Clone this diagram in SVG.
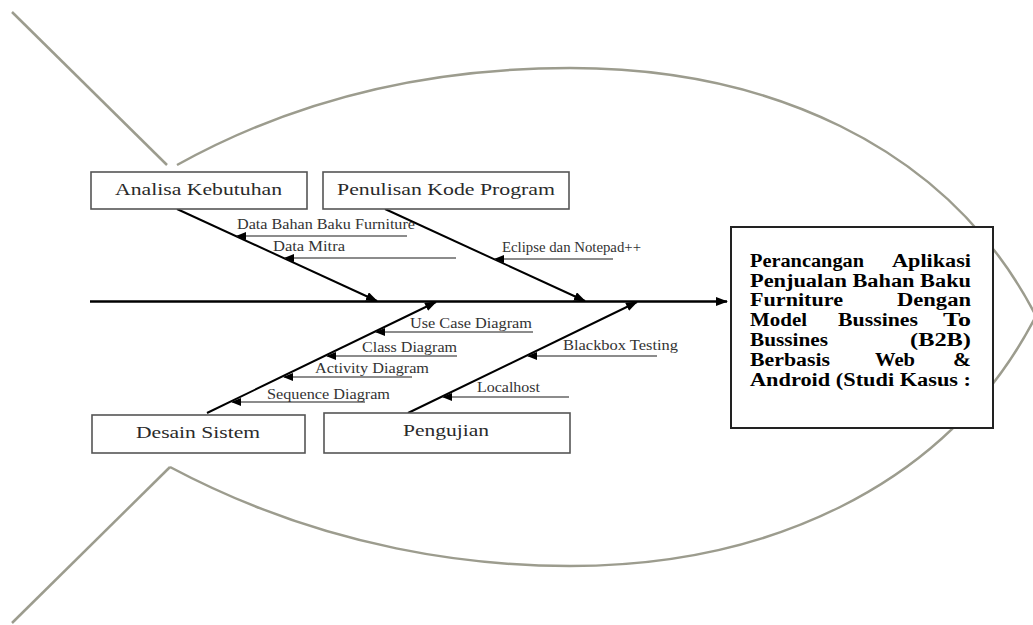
<svg xmlns="http://www.w3.org/2000/svg" width="1033" height="625" viewBox="0 0 1033 625">
<defs>
<marker id="ah" markerUnits="userSpaceOnUse" markerWidth="12" markerHeight="9" refX="11" refY="4.5" orient="auto"><path d="M0,0 L12,4.5 L0,9 z" fill="#000"/></marker>
<marker id="fh" markerUnits="userSpaceOnUse" markerWidth="10" markerHeight="8" refX="9" refY="4" orient="auto"><path d="M0,0 L10,4 L0,8 z" fill="#000"/></marker>
</defs>
<style>
.fish{fill:none;stroke:#9c9c8e;stroke-width:2.5}
.box{fill:#fff;stroke:#555;stroke-width:1.6}
.lbl{font-family:"Liberation Serif",serif;font-size:17.5px;fill:#2a2a2a}
.sm{font-family:"Liberation Serif",serif;font-size:14.5px;fill:#333}
.bone{fill:none;stroke:#000;stroke-width:2;marker-end:url(#ah)}
.spine{fill:none;stroke:#000;stroke-width:2.6;marker-end:url(#ah)}
.feed{fill:none;stroke:#666;stroke-width:1.5;marker-end:url(#fh)}
.ttl{font-family:"Liberation Serif",serif;font-size:18px;font-weight:bold;fill:#000}
</style>
<g id="fish-outline">
<path class="fish" d="M12,12 L167,165"/>
<path class="fish" d="M12,623 L170,467"/>
<path class="fish" d="M177,165 C330,80 480,68 570,68 C760,68 945,140 1036,316"/>
<path class="fish" d="M170,467 C330,552 480,566 570,566 C760,566 945,492 1036,316"/>
</g>
<g id="connectors">
<path class="spine" d="M90,301.5 L727,301.5"/>
<path class="bone" d="M177,209 L377,301"/>
<path class="bone" d="M385,209 L585,301"/>
<path class="bone" d="M207,413 L436,302"/>
<path class="bone" d="M408,413 L637,302"/>
<path class="feed" d="M407,236 L237,236"/>
<path class="feed" d="M456,258 L285,258"/>
<path class="feed" d="M613,259 L495,259"/>
<path class="feed" d="M533,332 L376,332"/>
<path class="feed" d="M457,356 L327,356"/>
<path class="feed" d="M412,377 L284,377"/>
<path class="feed" d="M365,402 L232,402"/>
<path class="feed" d="M657,356 L528,356"/>
<path class="feed" d="M569,397 L443,397"/>
</g>
<g id="labels">
<text class="sm" x="237" y="229" textLength="178" lengthAdjust="spacingAndGlyphs">Data Bahan Baku Furniture</text>
<text class="sm" x="273" y="251" textLength="72" lengthAdjust="spacingAndGlyphs">Data Mitra</text>
<text class="sm" x="502" y="252" textLength="139" lengthAdjust="spacingAndGlyphs">Eclipse dan Notepad++</text>
<text class="sm" x="410" y="328" textLength="122" lengthAdjust="spacingAndGlyphs">Use Case Diagram</text>
<text class="sm" x="362" y="352" textLength="95" lengthAdjust="spacingAndGlyphs">Class Diagram</text>
<text class="sm" x="315" y="373" textLength="114" lengthAdjust="spacingAndGlyphs">Activity Diagram</text>
<text class="sm" x="267" y="399" textLength="123" lengthAdjust="spacingAndGlyphs">Sequence Diagram</text>
<text class="sm" x="563" y="350" textLength="115" lengthAdjust="spacingAndGlyphs">Blackbox Testing</text>
<text class="sm" x="477" y="392" textLength="63" lengthAdjust="spacingAndGlyphs">Localhost</text>
</g>
<g id="analisa-kebutuhan">
<rect class="box" x="91" y="172" width="216" height="37"/>
<text class="lbl" x="115" y="195" textLength="167" lengthAdjust="spacingAndGlyphs">Analisa Kebutuhan</text>
</g>
<g id="penulisan-kode-program">
<rect class="box" x="323" y="172" width="246" height="37"/>
<text class="lbl" x="337" y="195" textLength="218" lengthAdjust="spacingAndGlyphs">Penulisan Kode Program</text>
</g>
<g id="desain-sistem">
<rect class="box" x="92" y="415" width="213" height="38"/>
<text class="lbl" x="136" y="438" textLength="124" lengthAdjust="spacingAndGlyphs">Desain Sistem</text>
</g>
<g id="pengujian">
<rect class="box" x="324" y="413" width="246" height="40"/>
<text class="lbl" x="403" y="436" textLength="86" lengthAdjust="spacingAndGlyphs">Pengujian</text>
</g>
<g id="judul">
<rect x="731" y="227" width="262" height="201" fill="#fff" stroke="#222" stroke-width="2"/>
<text class="ttl" x="750" y="267" textLength="114" lengthAdjust="spacingAndGlyphs">Perancangan</text>
<text class="ttl" x="892" y="267" textLength="79" lengthAdjust="spacingAndGlyphs">Aplikasi</text>
<text class="ttl" x="750" y="287" textLength="221" lengthAdjust="spacingAndGlyphs">Penjualan Bahan Baku</text>
<text class="ttl" x="750" y="306" textLength="93" lengthAdjust="spacingAndGlyphs">Furniture</text>
<text class="ttl" x="897" y="306" textLength="74" lengthAdjust="spacingAndGlyphs">Dengan</text>
<text class="ttl" x="750" y="326" textLength="57" lengthAdjust="spacingAndGlyphs">Model</text>
<text class="ttl" x="838" y="326" textLength="80" lengthAdjust="spacingAndGlyphs">Bussines</text>
<text class="ttl" x="943" y="326" textLength="28" lengthAdjust="spacingAndGlyphs">To</text>
<text class="ttl" x="750" y="346" textLength="78" lengthAdjust="spacingAndGlyphs">Bussines</text>
<text class="ttl" x="910" y="346" textLength="61" lengthAdjust="spacingAndGlyphs">(B2B)</text>
<text class="ttl" x="750" y="366" textLength="80" lengthAdjust="spacingAndGlyphs">Berbasis</text>
<text class="ttl" x="875" y="366" textLength="40" lengthAdjust="spacingAndGlyphs">Web</text>
<text class="ttl" x="953" y="366" textLength="18" lengthAdjust="spacingAndGlyphs">&amp;</text>
<text class="ttl" x="750" y="386" textLength="221" lengthAdjust="spacingAndGlyphs">Android (Studi Kasus :</text>
</g>
</svg>
